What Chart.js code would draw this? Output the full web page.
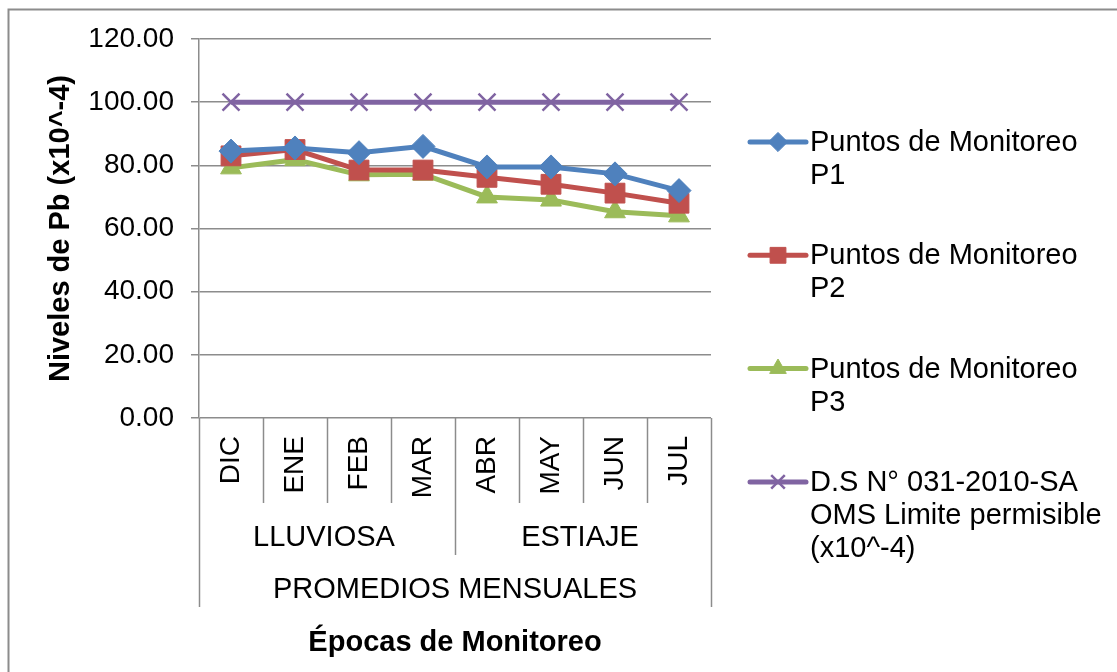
<!DOCTYPE html>
<html>
<head>
<meta charset="utf-8">
<script src="https://cdn.jsdelivr.net/npm/chart.js@4/dist/chart.umd.min.js"></script>
<style>
  html, body { margin: 0; padding: 0; background: #fff; }
  #wrap { width: 1117px; height: 672px; position: relative; }
</style>
</head>
<body>
<div id="wrap"><canvas id="mychart"></canvas></div>
<script>

// months (first level of the category axis)
var months = ['DIC', 'ENE', 'FEB', 'MAR', 'ABR', 'MAY', 'JUN', 'JUL'];
// second level: seasons and how many months each covers
var seasons = ['LLUVIOSA', 'ESTIAJE'];
var seasonSpan = [4, 4];
// third level
var topGroup = 'PROMEDIOS MENSUALES';

var p1 = [84.5, 85.5, 84.0, 86.0, 79.5, 79.5, 77.3, 72.0];
var p2 = [83.0, 85.0, 78.5, 78.5, 76.2, 74.0, 71.2, 68.0];
var p3 = [79.2, 81.8, 77.0, 77.2, 70.0, 69.0, 65.3, 64.0];
var limite = [100, 100, 100, 100, 100, 100, 100, 100];

var seriesNames = [
  ['Puntos de Monitoreo', 'P1'],
  ['Puntos de Monitoreo', 'P2'],
  ['Puntos de Monitoreo', 'P3'],
  ['D.S N° 031-2010-SA', 'OMS Limite permisible', '(x10^-4)']
];

var yTicks = [0, 20, 40, 60, 80, 100, 120];

var FONT = 'Liberation Sans, Arial, Helvetica, sans-serif';
var GRAY = '#8c8c8c';

function makeSet(name, values, color, style, radius, bw) {
  return {
    label: name.join(' '),
    legendText: name,
    data: values,
    borderColor: color,
    backgroundColor: color,
    borderWidth: 5,
    pointStyle: style,
    pointRadius: radius,
    pointHoverRadius: radius,
    pointBorderWidth: bw,
    pointBorderColor: color,
    pointBackgroundColor: color,
    tension: 0
  };
}

// legend on the right, every entry can have several lines
const sideLegend = {
  id: 'sideLegend',
  afterDraw(chart) {
    const ctx = chart.ctx;
    const x0 = 750, x1 = 806, textX = 810;
    const firstY = 142, step = 113.3, lineH = 33;
    ctx.save();
    chart.data.datasets.forEach(function (ds, i) {
      const y = firstY + i * step;
      ctx.strokeStyle = ds.borderColor;
      ctx.lineWidth = ds.borderWidth;
      ctx.lineCap = 'round';
      ctx.beginPath();
      ctx.moveTo(x0, y);
      ctx.lineTo(x1, y);
      ctx.stroke();
      ctx.fillStyle = ds.pointBackgroundColor;
      ctx.strokeStyle = ds.pointBorderColor;
      ctx.lineWidth = ds.pointBorderWidth;
      ctx.lineCap = 'butt';
      if (Chart.helpers && Chart.helpers.drawPoint) {
        Chart.helpers.drawPoint(ctx, {
          pointStyle: ds.pointStyle,
          radius: ds.pointRadius * 0.8,
          rotation: 0,
          borderWidth: ds.pointBorderWidth
        }, (x0 + x1) / 2, y);
      }
      ctx.fillStyle = '#000';
      ctx.font = '29px ' + FONT;
      ctx.textAlign = 'left';
      ctx.textBaseline = 'alphabetic';
      ds.legendText.forEach(function (t, k) {
        ctx.fillText(t, textX, y + 9 + k * lineH);
      });
    });
    ctx.restore();
  }
};

// the nested category labels under the x axis and the chart border
const nestedAxis = {
  id: 'nestedAxis',
  beforeDraw(chart) {
    const ctx = chart.ctx;
    ctx.save();
    ctx.strokeStyle = GRAY;
    ctx.lineWidth = 2;
    ctx.strokeRect(8.5, 9.5, chart.width + 10, chart.height + 10);
    ctx.restore();
  },
  afterDraw(chart) {
    const ctx = chart.ctx;
    const xs = chart.scales.x;
    const area = chart.chartArea;
    const n = months.length;
    const band = (xs.getPixelForValue(n - 1) - xs.getPixelForValue(0)) / (n - 1);
    const y0 = area.bottom;

    ctx.save();
    ctx.strokeStyle = GRAY;
    ctx.lineWidth = 1.5;

    // boundaries between months, seasons and the whole group
    const seasonEnds = [];
    let acc = 0;
    seasonSpan.forEach(function (s) { acc += s; seasonEnds.push(acc); });
    for (let i = 0; i <= n; i++) {
      const x = Math.round(xs.getPixelForValue(i) - band / 2) + 0.5;
      let len = 85;
      if (i === 0 || i === n) len = 189;
      else if (seasonEnds.indexOf(i) >= 0) len = 137;
      ctx.beginPath();
      ctx.moveTo(x, y0);
      ctx.lineTo(x, y0 + len);
      ctx.stroke();
    }

    ctx.fillStyle = '#000';
    ctx.font = '29px ' + FONT;
    ctx.textAlign = 'center';
    ctx.textBaseline = 'middle';
    let start = 0;
    seasons.forEach(function (s, k) {
      const a = xs.getPixelForValue(start) - band / 2;
      const b = xs.getPixelForValue(start + seasonSpan[k] - 1) + band / 2;
      ctx.fillText(s, (a + b) / 2 - 3, y0 + 120);
      start += seasonSpan[k];
    });
    ctx.fillText(topGroup, (area.left + area.right) / 2, y0 + 172);
    ctx.restore();
  }
};

const config = {
  type: 'line',
  data: {
    labels: months,
    datasets: [
      makeSet(seriesNames[0], p1, '#4F81BD', 'rectRot', 12, 1),
      makeSet(seriesNames[1], p2, '#C0504D', 'rect', 14, 1),
      makeSet(seriesNames[2], p3, '#9BBB59', 'triangle', 12, 1),
      makeSet(seriesNames[3], limite, '#8064A2', 'crossRot', 12, 2.5)
    ]
  },
  plugins: [nestedAxis, sideLegend],
  options: {
    responsive: true,
    maintainAspectRatio: false,
    animation: false,
    layout: { padding: { left: 0, top: 39, right: 406, bottom: 0 } },
    plugins: {
      legend: { display: false },
      tooltip: { enabled: false }
    },
    scales: {
      x: {
        offset: true,
        grid: { display: false, drawTicks: false },
        border: { display: false },
        afterFit: function (s) { s.height = 254; },
        ticks: {
          autoSkip: false,
          minRotation: 90,
          maxRotation: 90,
          padding: 18,
          color: '#000',
          font: { size: 28, family: FONT }
        },
        title: {
          display: true,
          text: 'Épocas de Monitoreo',
          color: '#000',
          font: { size: 29, weight: 'bold', family: FONT },
          padding: { top: 0, bottom: 12 }
        }
      },
      y: {
        min: 0,
        max: 120,
        afterFit: function (s) { s.width = 199; },
        afterBuildTicks: function (s) { s.ticks = yTicks.map(function (v) { return { value: v }; }); },
        grid: { color: GRAY, lineWidth: 1.5, tickLength: 8, drawTicks: true },
        border: { display: true, color: GRAY, width: 1.5 },
        ticks: {
          padding: 17,
          color: '#000',
          font: { size: 28, family: FONT },
          callback: function (v) { return Number(v).toFixed(2); }
        },
        title: {
          display: true,
          text: 'Niveles de Pb (x10^-4)',
          color: '#000',
          font: { size: 29, weight: 'bold', family: FONT },
          padding: { top: 44, bottom: 0 }
        }
      }
    }
  }
};

const myChart = new Chart(document.getElementById('mychart').getContext('2d'), config);
</script>
</body>
</html>
